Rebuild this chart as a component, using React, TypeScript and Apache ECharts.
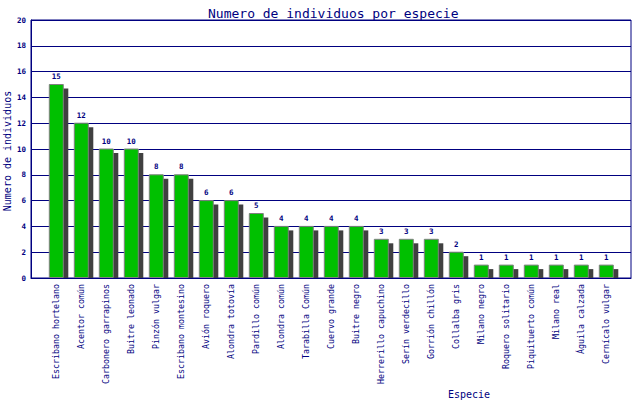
import React, { useEffect, useRef } from 'react';
import * as echarts from 'echarts';

const species = [
  'Escribano hortelano', 'Acentor común', 'Carbonero garrapinos', 'Buitre leonado',
  'Pinzón vulgar', 'Escribano montesino', 'Avión roquero', 'Alondra totovía',
  'Pardillo común', 'Alondra común', 'Tarabilla Común', 'Cuervo grande',
  'Buitre negro', 'Herrerillo capuchino', 'Serín verdecillo', 'Gorrión chillón',
  'Collalba gris', 'Milano negro', 'Roquero solitario', 'Piquituerto común',
  'Milano real', 'Águila calzada', 'Cernícalo vulgar',
];
const counts = [15, 12, 10, 10, 8, 8, 6, 6, 5, 4, 4, 4, 4, 3, 3, 3, 2, 1, 1, 1, 1, 1, 1];

const titleText = 'Numero de individuos por especie';
const yName = 'Numero de individuos';
const xName = 'Especie';

const NAVY = '#000080';
const MONO = 'DejaVu Sans Mono';

export default function App() {
  const ref = useRef<HTMLDivElement>(null);
  useEffect(() => {
    const chart = echarts.init(ref.current!, null, { renderer: 'svg' });
    chart.setOption({
      animation: false,
      backgroundColor: '#ffffff',
      title: {
        text: titleText,
        left: 203,
        top: 2,
        textStyle: { fontFamily: MONO, fontSize: 13, fontWeight: 'normal', color: NAVY },
      },
      grid: [
        { left: 31, right: 9, top: 20, bottom: 122, show: true, borderColor: NAVY, borderWidth: 1, backgroundColor: 'transparent' },
        { left: 43.8, right: 21.2, top: 20, bottom: 122 },
      ],
      xAxis: [
        {
          gridIndex: 0, type: 'category', data: [''],
          axisLine: { show: true, lineStyle: { color: NAVY, width: 1 } },
          axisTick: { show: false }, axisLabel: { show: false }, splitLine: { show: false },
        },
        {
          gridIndex: 1, type: 'category', data: species,
          axisLine: { show: false }, axisTick: { show: false }, splitLine: { show: false },
          axisLabel: { rotate: 90, interval: 0, margin: 6, fontFamily: MONO, fontSize: 8.3, color: NAVY },
        },
      ],
      yAxis: [
        {
          gridIndex: 0, type: 'value', min: 0, max: 20, interval: 2,
          axisLine: { show: true, lineStyle: { color: NAVY, width: 1 } },
          axisTick: { show: false },
          axisLabel: { margin: 5, fontFamily: MONO, fontSize: 7.5, fontWeight: 'bold', color: NAVY },
          splitLine: { show: true, lineStyle: { color: NAVY, width: 1 } },
        },
        { gridIndex: 1, type: 'value', min: 0, max: 20, show: false },
      ],
      series: [
        {
          type: 'custom',
          xAxisIndex: 1,
          yAxisIndex: 1,
          data: counts.map((v, i) => [i, v]),
          renderItem: (params: any, api: any) => {
            const top = api.coord([api.value(0), api.value(1)]);
            const base = api.coord([api.value(0), 0]);
            const cx = top[0];
            const w = 14;
            const h = base[1] - top[1];
            return {
              type: 'group',
              children: [
                {
                  type: 'rect',
                  shape: { x: cx - w / 2 + 5, y: top[1] + 4, width: w, height: Math.max(h - 4, 0) },
                  style: { fill: '#404040' },
                },
                {
                  type: 'rect',
                  shape: { x: cx - w / 2, y: top[1], width: w, height: h - 0.5 },
                  style: { fill: '#00C000', stroke: '#808080', lineWidth: 1 },
                },
                {
                  type: 'text',
                  x: cx,
                  y: top[1] - 4,
                  style: {
                    text: String(api.value(1)),
                    align: 'center',
                    verticalAlign: 'bottom',
                    fill: NAVY,
                    fontFamily: MONO,
                    fontSize: 7.5,
                    fontWeight: 'bold',
                  },
                },
              ],
            };
          },
        },
      ],
      graphic: [
        {
          type: 'text', x: 7.5, y: 151, rotation: Math.PI / 2,
          style: { text: yName, align: 'center', verticalAlign: 'middle', fill: NAVY, fontFamily: MONO, fontSize: 10 },
        },
        {
          type: 'text', x: 469, y: 394,
          style: { text: xName, align: 'center', verticalAlign: 'middle', fill: NAVY, fontFamily: MONO, fontSize: 10 },
        },
      ],
    });
    return () => chart.dispose();
  }, []);
  return <div ref={ref} style={{ position: 'fixed', left: 0, top: 0, width: 640, height: 400 }} />;
}
